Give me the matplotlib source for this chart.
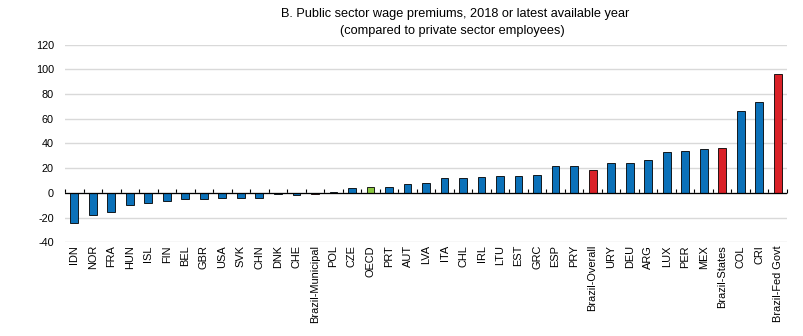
import matplotlib
matplotlib.use('Agg')
import matplotlib.pyplot as plt
import numpy as np

plt.rcParams['font.family'] = ['Liberation Sans', 'DejaVu Sans']
plt.rcParams['axes.unicode_minus'] = False

countries = ['IDN', 'NOR', 'FRA', 'HUN', 'ISL', 'FIN', 'BEL', 'GBR', 'USA', 'SVK',
             'CHN', 'DNK', 'CHE', 'Brazil-Municipal', 'POL', 'CZE', 'OECD', 'PRT',
             'AUT', 'LVA', 'ITA', 'CHL', 'IRL', 'LTU', 'EST', 'GRC', 'ESP', 'PRY',
             'Brazil-Overall', 'URY', 'DEU', 'ARG', 'LUX', 'PER', 'MEX',
             'Brazil-States', 'COL', 'CRI', 'Brazil-Fed Govt']
premium = [-24.5, -17.5, -15.5, -9.6, -8.5, -6.6, -5.0, -5.0, -4.2, -4.2,
           -4.0, -1.2, -1.3, -1.2, 0.8, 3.6, 4.7, 4.6,
           7.4, 8.2, 11.7, 12.0, 12.5, 13.3, 13.9, 14.1, 21.5, 22.0,
           18.8, 23.9, 24.4, 26.6, 33.4, 34.2, 35.5,
           36.0, 66.3, 74.0, 95.9]

blue = '#0B71B9'
red = '#DA2128'
green = '#8CC841'
colors = []
for c in countries:
    if c.startswith('Brazil'):
        colors.append(red)
    elif c == 'OECD':
        colors.append(green)
    else:
        colors.append(blue)

fig = plt.figure(figsize=(8.04, 3.36), dpi=100)
ax = fig.add_axes([65/804, 1-242.3/336, 722/804, 197.6/336])

x = np.arange(len(countries))
ax.bar(x, premium, width=0.42, color=colors, edgecolor='black', linewidth=0.6, zorder=3)

ax.set_xlim(-0.5, len(countries) - 0.5)
ax.set_ylim(-40, 120)
ax.set_yticks(np.arange(-40, 121, 20))
ax.yaxis.grid(True, color='#D9D9D9', linewidth=1.0, zorder=0)
ax.tick_params(axis='y', length=0, pad=8, labelsize=7.8)
for s in ax.spines.values():
    s.set_visible(False)

ax.set_xticks(x)
ax.set_xticklabels(countries, rotation=90, fontsize=7.9)
ax.tick_params(axis='x', length=0, pad=2)

# zero line with boundary ticks
ax.axhline(0, color='black', linewidth=0.9, zorder=4)
zero_axis = ax.secondary_xaxis(40/160)
zero_axis.set_xticks(np.arange(-0.5, len(countries), 1.0))
zero_axis.tick_params(axis='x', direction='in', length=3, width=0.8, labelbottom=False,
                      labeltop=False, color='black')
zero_axis.spines['bottom'].set_visible(False)
zero_axis.spines['top'].set_visible(False)

fig.text(455/804, 1-14/336, 'B. Public sector wage premiums, 2018 or latest available year',
         ha='center', va='center', fontsize=9.2)
fig.text(452/804, 1-31/336, '(compared to private sector employees)',
         ha='center', va='center', fontsize=9.2)

fig.savefig('out.png', dpi=100)
